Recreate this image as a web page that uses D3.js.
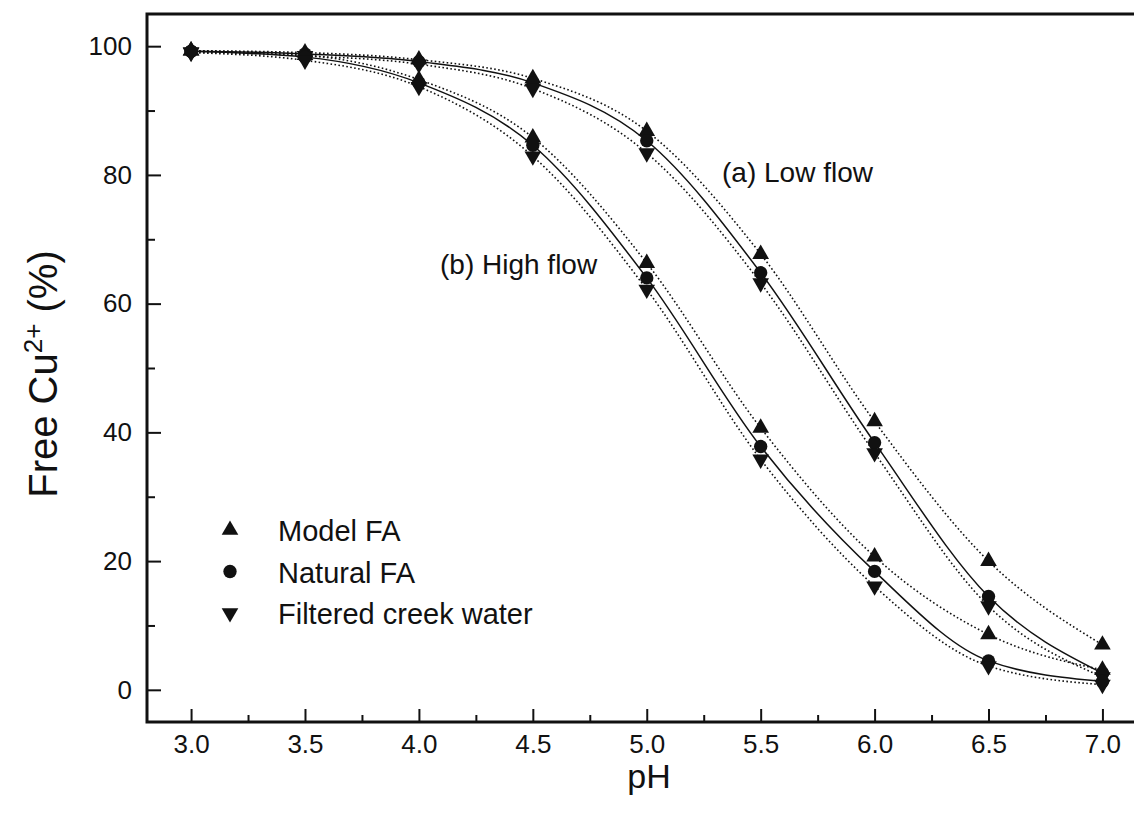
<!DOCTYPE html>
<html>
<head>
<meta charset="utf-8">
<script src="https://cdn.jsdelivr.net/npm/d3@7"></script>
<style>
  body { margin: 0; background: #fff; }
  .svg-frame { width: 1134px; height: 817px; overflow: hidden; }
  text { font-family: "Liberation Sans", Arial, Helvetica, sans-serif; fill: #111; }
</style>
</head>
<body>
<div class="svg-frame"></div>
<script>
// values
const phValues = [3.0, 3.5, 4.0, 4.5, 5.0, 5.5, 6.0, 6.5, 7.0]

// (a) low flow
const lowModelFA   = [99.3, 99.0, 97.9, 95.0, 86.8, 67.7, 41.7, 20.0, 7.0]
const lowNaturalFA = [99.2, 98.8, 97.6, 94.3, 85.3, 64.8, 38.4, 14.5, 2.6]
const lowCreek     = [99.1, 98.5, 97.2, 93.4, 83.4, 63.2, 36.8, 13.0, 2.0]

// (b) high flow
const highModelFA   = [99.3, 98.6, 94.8, 85.8, 66.3, 40.7, 20.7, 8.6, 3.1]
const highNaturalFA = [99.2, 98.3, 94.3, 84.6, 64.0, 37.8, 18.4, 4.5, 1.3]
const highCreek     = [99.0, 97.8, 93.7, 82.9, 62.2, 35.8, 16.1, 3.7, 0.8]

const xTicks = [3.0, 3.5, 4.0, 4.5, 5.0, 5.5, 6.0, 6.5, 7.0]
const xMinorTicks = [3.25, 3.75, 4.25, 4.75, 5.25, 5.75, 6.25, 6.75]
const yTicks = [0, 20, 40, 60, 80, 100]
const yMinorTicks = [10, 30, 50, 70, 90]

const legendLabels = ["Model FA", "Natural FA", "Filtered creek water"]

function drawViz() {
  const svg = d3.select(".svg-frame")
    .append("svg")
    .attr("width", 1134)
    .attr("height", 817)

  const margin = {top: 14, left: 147, bottom: 722, right: 1148}
  const xScale = d3.scaleLinear([2.8, 7.2], [margin.left - 1.5, margin.right])
  const yScale = d3.scaleLinear([-5, 105], [margin.bottom, margin.top])

  //series: marker type + line style
  const series = [
    {values: lowModelFA, symbol: "up", dash: true},
    {values: lowNaturalFA, symbol: "circle", dash: false},
    {values: lowCreek, symbol: "down", dash: true},
    {values: highModelFA, symbol: "up", dash: true},
    {values: highNaturalFA, symbol: "circle", dash: false},
    {values: highCreek, symbol: "down", dash: true}
  ]

  const line = d3.line()
    .x(d => xScale(d.ph))
    .y(d => yScale(d.v))
    .curve(d3.curveMonotoneX)

  series.forEach(s => {
    s.points = phValues.map((ph, i) => ({ph: ph, v: s.values[i]}))
  })

  svg.selectAll("path.fit")
    .data(series)
    .join("path")
      .attr("class", "fit")
      .attr("d", d => line(d.points))
      .attr("fill", "none")
      .attr("stroke", "#111")
      .attr("stroke-width", d => d.dash ? 1.6 : 1.5)
      .attr("stroke-dasharray", d => d.dash ? "1.6,2.4" : null)

  const symbolPath = {
    up: d3.symbol(d3.symbolTriangle, 120)(),
    down: d3.symbol(d3.symbolTriangle, 120)(),
    circle: d3.symbol(d3.symbolCircle, 140)()
  }

  series.forEach(s => {
    svg.append("g")
      .selectAll("path")
      .data(s.points)
      .join("path")
        .attr("d", symbolPath[s.symbol])
        .attr("transform", d => `translate(${xScale(d.ph)},${yScale(d.v)})` + (s.symbol === "down" ? " rotate(180)" : ""))
        .attr("fill", "#111")
  })

  //axes
  const xAxis = svg.append("g")
    .attr("transform", `translate(0,${margin.bottom})`)
    .call(d3.axisBottom(xScale).tickValues(xTicks).tickFormat(d3.format(".1f")).tickSize(-13).tickPadding(13))
  const xMinor = svg.append("g")
    .attr("transform", `translate(0,${margin.bottom})`)
    .call(d3.axisBottom(xScale).tickValues(xMinorTicks).tickFormat("").tickSize(-7))
  const yAxis = svg.append("g")
    .attr("transform", `translate(${margin.left},0)`)
    .call(d3.axisLeft(yScale).tickValues(yTicks).tickSize(-14).tickPadding(15))
  const yMinor = svg.append("g")
    .attr("transform", `translate(${margin.left},0)`)
    .call(d3.axisLeft(yScale).tickValues(yMinorTicks).tickFormat("").tickSize(-8))

  ;[xAxis, xMinor, yAxis, yMinor].forEach(g => {
    g.select(".domain").remove()
    g.selectAll(".tick line").attr("stroke", "#111").attr("stroke-width", 2)
    g.selectAll(".tick text")
      .style("font-family", "'Liberation Sans', Arial, sans-serif")
      .style("font-size", "26px")
      .attr("fill", "#111")
  })

  //frame
  svg.append("path")
    .attr("d", `M${margin.right},${margin.top}H${margin.left}V${margin.bottom}H${margin.right}`)
    .attr("fill", "none")
    .attr("stroke", "#111")
    .attr("stroke-width", 3)

  //axis titles
  svg.append("text")
    .attr("x", 649)
    .attr("y", 788)
    .attr("text-anchor", "middle")
    .style("font-size", "34px")
    .text("pH")

  const yTitle = svg.append("text")
    .attr("transform", "translate(57,374) rotate(-90)")
    .attr("text-anchor", "middle")
    .style("font-size", "40px")
  yTitle.append("tspan").text("Free Cu")
  yTitle.append("tspan").attr("dy", -15).style("font-size", "26px").text("2+")
  yTitle.append("tspan").attr("dy", 15).text(" (%)")

  //annotations
  svg.append("text")
    .attr("x", 722)
    .attr("y", 182)
    .style("font-size", "28px")
    .text("(a) Low flow")
  svg.append("text")
    .attr("x", 440)
    .attr("y", 274)
    .style("font-size", "28px")
    .text("(b) High flow")

  //legend
  const legendSymbols = ["up", "circle", "down"]
  const legend = svg.append("g")
    .selectAll("g")
    .data(legendLabels)
    .join("g")
      .attr("transform", (d, i) => `translate(230,${530 + i * 41.5})`)
  legend.append("path")
    .attr("d", (d, i) => symbolPath[legendSymbols[i]])
    .attr("transform", (d, i) => legendSymbols[i] === "down" ? "rotate(180)" : null)
    .attr("fill", "#111")
  legend.append("text")
    .attr("x", 48)
    .attr("y", 11)
    .style("font-size", "29px")
    .text(d => d)
}

drawViz()
</script>
</body>
</html>
